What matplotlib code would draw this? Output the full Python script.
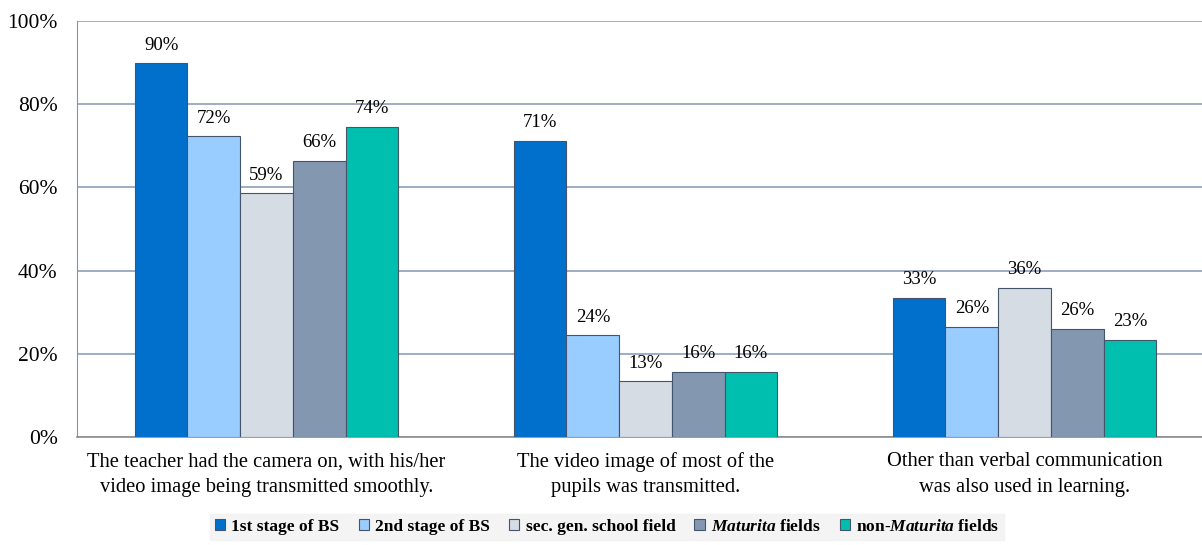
import matplotlib
matplotlib.use('Agg')
import matplotlib.pyplot as plt
import numpy as np
from matplotlib.patches import Patch

plt.rcParams['font.family'] = ['Liberation Serif', 'DejaVu Serif']
plt.rcParams['mathtext.fontset'] = 'custom'
plt.rcParams['mathtext.it'] = 'Liberation Serif:italic:bold'
plt.rcParams['mathtext.rm'] = 'Liberation Serif:bold'

categories = ['The teacher had the camera on, with his/her\nvideo image being transmitted smoothly.',
              'The video image of most of the\npupils was transmitted.',
              'Other than verbal communication\nwas also used in learning.']
series = ['1st stage of BS', '2nd stage of BS', 'sec. gen. school field',
          r'$Maturita$ fields', r'non-$Maturita$ fields']
stage1 = [89.8, 71.2, 33.4]
stage2 = [72.3, 24.4, 26.4]
secgen = [58.6, 13.4, 35.8]
maturita = [66.4, 15.6, 26.0]
non_maturita = [74.5, 15.6, 23.4]
colors = ['#0070CC', '#99CCFF', '#D6DCE4', '#8497B0', '#00BFAE']

values = [stage1, stage2, secgen, maturita, non_maturita]

fig = plt.figure(figsize=(12.02, 5.45), dpi=100)
ax = fig.add_axes([77 / 1202, 108 / 545, 1137 / 1202, 416 / 545])

x = np.arange(len(categories))
w = 0.139
for i, (vals, c) in enumerate(zip(values, colors)):
    pos = x + (i - 2) * w
    bars = ax.bar(pos, vals, w, color=c, edgecolor='#44546A', linewidth=0.8, zorder=3)
    for b, v in zip(bars, vals):
        ax.annotate(f'{v:.0f}%', (b.get_x() + b.get_width() / 2, v),
                    xytext=(0, 7), textcoords='offset points',
                    ha='center', va='bottom', fontsize=13.5)

ax.set_xlim(-0.5, 2.5)
ax.set_ylim(0, 100)
ax.set_yticks(range(0, 101, 20))
ax.set_yticklabels([f'{t}%' for t in range(0, 101, 20)], fontsize=15.5)
ax.set_xticks(x)
ax.set_xticklabels(categories, fontsize=14.8, linespacing=1.45)
ax.tick_params(axis='both', length=0)
ax.tick_params(axis='y', pad=14)
ax.tick_params(axis='x', pad=11)
ax.grid(axis='y', color='#8EA0BA', linewidth=1.2, zorder=0)
for s in ['top', 'right']:
    ax.spines[s].set_visible(False)
ax.spines['left'].set_color('#8393AB')
ax.spines['bottom'].set_color('#8C8C8C')
ax.spines['bottom'].set_linewidth(1.2)

handles = [Patch(facecolor=c, edgecolor='#44546A', linewidth=0.8) for c in colors]
leg = fig.legend(handles, series, loc='center', bbox_to_anchor=(607 / 1202, 1 - 527 / 545),
                 ncol=5, frameon=True, fancybox=False, facecolor='#F2F2F2', edgecolor='#F2F2F2',
                 handlelength=0.6, handleheight=0.6, handletextpad=0.35, columnspacing=1.1,
                 borderpad=0.3, prop={'weight': 'bold', 'size': 12.5})

fig.savefig('out.png', dpi=100)
